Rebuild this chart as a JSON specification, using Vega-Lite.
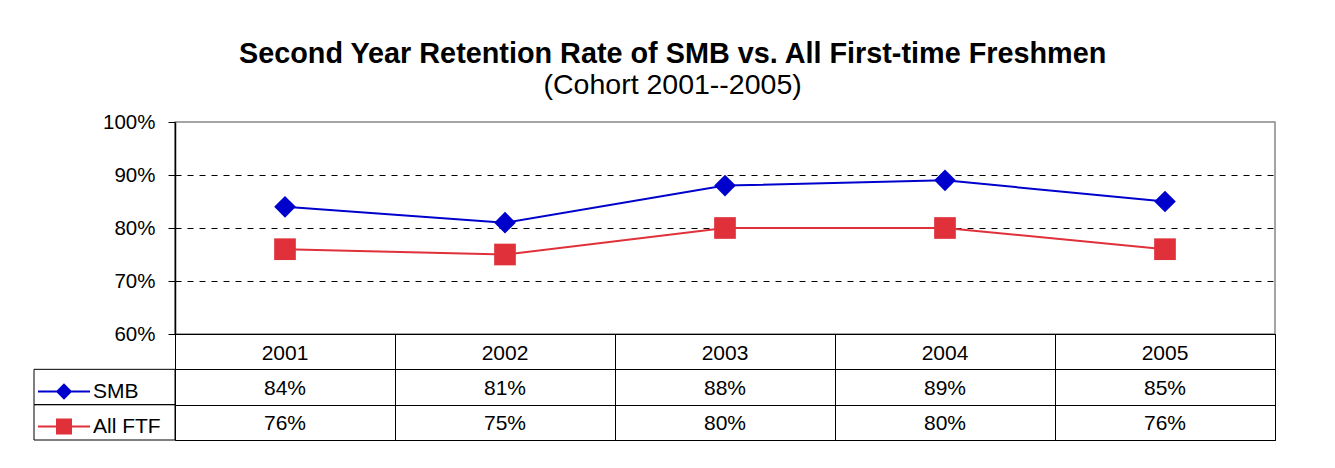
{
  "$schema": "https://vega.github.io/schema/vega-lite/v6.json",
  "padding": {"left": 33, "top": 39, "right": 5, "bottom": 5},
  "background": "white",
  "config": {"font": "Liberation Sans", "view": {"stroke": null}},
  "title": {
    "text": "Second Year Retention Rate of SMB vs. All First-time Freshmen",
    "subtitle": "(Cohort 2001--2005)",
    "anchor": "middle",
    "dx": 18,
    "offset": 12,
    "font": "Liberation Sans",
    "fontSize": 28.8,
    "fontWeight": "bold",
    "color": "black",
    "subtitleFont": "Liberation Sans",
    "subtitleFontSize": 28.5,
    "subtitleColor": "black",
    "subtitlePadding": 2
  },
  "datasets": {
    "main": [
      {"year": 2001, "series": "SMB", "value": 0.84},
      {"year": 2002, "series": "SMB", "value": 0.81},
      {"year": 2003, "series": "SMB", "value": 0.88},
      {"year": 2004, "series": "SMB", "value": 0.89},
      {"year": 2005, "series": "SMB", "value": 0.85},
      {"year": 2001, "series": "All FTF", "value": 0.76},
      {"year": 2002, "series": "All FTF", "value": 0.75},
      {"year": 2003, "series": "All FTF", "value": 0.80},
      {"year": 2004, "series": "All FTF", "value": 0.80},
      {"year": 2005, "series": "All FTF", "value": 0.76}
    ]
  },
  "columns": 2,
  "spacing": 0,
  "bounds": "flush",
  "concat": [
    {
      "width": 141,
      "height": 212,
      "data": {"values": []},
      "mark": "text",
      "encoding": {}
    },
    {
      "width": 1100,
      "height": 212,
      "view": {"stroke": "#888888", "strokeWidth": 1.5},
      "data": {"name": "main"},
      "encoding": {
        "x": {"field": "year", "type": "ordinal", "scale": {"type": "point", "padding": 0.5}, "axis": null},
        "y": {
          "field": "value",
          "type": "quantitative",
          "scale": {"domain": [0.6, 1.0], "zero": false, "nice": false},
          "axis": {
            "values": [0.6, 0.7, 0.8, 0.9, 1.0],
            "format": ".0%",
            "title": null,
            "labelFont": "Liberation Sans",
            "labelFontSize": 20.5,
            "labelColor": "black",
            "labelPadding": 13,
            "tickSize": 7,
            "tickColor": "black",
            "domainColor": "black",
            "domainWidth": 1.5,
            "grid": true,
            "gridColor": {"condition": {"test": "datum.value <= 0.6 || datum.value >= 1", "value": "transparent"}, "value": "black"},
            "gridDash": [6, 6],
            "gridWidth": 1,
            "gridOpacity": 1
          }
        },
        "color": {
          "field": "series",
          "type": "nominal",
          "scale": {"domain": ["SMB", "All FTF"], "range": ["#0000CC", "#E0303A"]},
          "legend": {
            "orient": "none",
            "legendX": 3,
            "legendY": 252,
            "title": null,
            "direction": "vertical",
            "padding": 0,
            "rowPadding": 0,
            "clipHeight": 35,
            "labelFont": "Liberation Sans",
            "labelFontSize": 21,
            "labelColor": "black",
            "labelOffset": 2,
            "symbolSize": 2704,
            "symbolStrokeWidth": 2,
            "symbolOffset": 0,
            "encode": {
              "symbols": {
                "update": {
                  "shape": {"signal": "datum.value === 'SMB' ? 'M-1,0H1M0,-0.26L0.26,0L0,0.26L-0.26,0Z' : 'M-1,0H1M-0.27,-0.27H0.27V0.27H-0.27Z'"},
                  "fill": {"scale": "color", "field": "value"},
                  "stroke": {"scale": "color", "field": "value"},
                  "strokeWidth": {"value": 2},
                  "size": {"value": 2704},
                  "opacity": {"value": 1}
                }
              }
            }
          }
        }
      },
      "layer": [
        {"mark": {"type": "line", "strokeWidth": 2}},
        {
          "transform": [{"filter": "datum.series === 'SMB'"}],
          "mark": {"type": "point", "shape": "diamond", "filled": true, "size": 470, "opacity": 1}
        },
        {
          "transform": [{"filter": "datum.series === 'All FTF'"}],
          "mark": {"type": "point", "shape": "square", "filled": true, "size": 470, "opacity": 1}
        }
      ]
    },
    {
      "width": 141,
      "height": 106,
      "data": {"name": "main"},
      "transform": [{"aggregate": [{"op": "count", "as": "n"}], "groupby": ["series"]}],
      "mark": {"type": "rect", "fill": "transparent", "stroke": "black", "strokeWidth": 1},
      "encoding": {
        "y": {"field": "series", "type": "nominal", "scale": {"domain": ["Year", "SMB", "All FTF"], "paddingInner": 0, "paddingOuter": 0}, "axis": null}
      }
    },
    {
      "width": 1100,
      "height": 106,
      "view": {"stroke": "black", "strokeWidth": 1},
      "data": {"name": "main"},
      "encoding": {
        "x": {
          "field": "year",
          "type": "ordinal",
          "scale": {"type": "band", "paddingInner": 0, "paddingOuter": 0},
          "axis": {"orient": "top", "labels": false, "ticks": false, "domain": false, "grid": true, "tickBand": "extent", "gridColor": "black", "gridOpacity": 1, "gridWidth": 1, "title": null}
        }
      },
      "layer": [
        {
          "transform": [{"filter": "datum.series === 'SMB'"}],
          "mark": {"type": "text", "font": "Liberation Sans", "fontSize": 21, "color": "black", "align": "center", "baseline": "middle", "dy": 2},
          "encoding": {
            "y": {
              "datum": "Year",
              "type": "nominal",
              "scale": {"domain": ["Year", "SMB", "All FTF"], "paddingInner": 0, "paddingOuter": 0},
              "axis": {"labels": false, "ticks": false, "domain": false, "grid": true, "tickBand": "extent", "gridColor": "black", "gridOpacity": 1, "gridWidth": 1, "title": null}
            },
            "text": {"field": "year", "type": "nominal"}
          }
        },
        {
          "mark": {"type": "text", "font": "Liberation Sans", "fontSize": 21, "color": "black", "align": "center", "baseline": "middle", "dy": 2},
          "encoding": {
            "y": {
              "field": "series",
              "type": "nominal",
              "scale": {"domain": ["Year", "SMB", "All FTF"], "paddingInner": 0, "paddingOuter": 0},
              "axis": {"labels": false, "ticks": false, "domain": false, "grid": true, "tickBand": "extent", "gridColor": "black", "gridOpacity": 1, "gridWidth": 1, "title": null}
            },
            "text": {"field": "value", "type": "quantitative", "format": ".0%"}
          }
        }
      ]
    }
  ]
}
